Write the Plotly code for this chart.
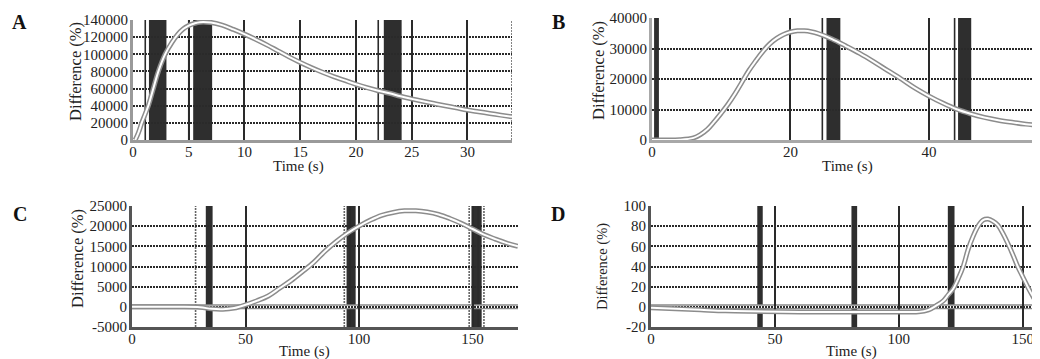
import plotly.graph_objects as go

# ---------------- data ----------------
A_t = [0.2, 0.5, 0.8, 1.1, 1.4, 1.8, 2.3, 2.9, 3.5, 4.0, 4.5, 5.0, 5.5, 6.0, 7, 8, 9, 10, 11, 12, 13, 14,
       15, 16, 17, 18, 19, 20, 21, 22, 23, 24, 25, 26, 27, 28, 29, 30, 31, 32, 33, 34]
A_y = [0, 9000, 20500, 30500, 41000, 59000, 81000, 100500, 114000, 123000, 129500, 133500, 136000, 137500,
       137000, 134000, 129000, 123500, 117500, 111000, 104000, 97000, 90500, 84500, 79000, 74000, 69500,
       65000, 61000, 57500, 54500, 51000, 48000, 45200, 42500, 40000, 37500, 35000, 33000, 31000, 29000, 27000]

B_t = [0, 2, 4, 6, 7, 8, 9, 10, 11, 12, 13, 14, 15, 16, 17, 18, 19, 20, 21, 22, 23, 24, 26, 28, 30, 32,
       34, 36, 38, 40, 42, 44, 46, 48, 50, 52, 54, 55.6]
B_y = [0, 0, 100, 700, 1800, 3500, 6000, 8800, 11800, 15200, 19000, 22800, 26000, 29000, 31500, 33300,
       34600, 35400, 35800, 35800, 35500, 34900, 33100, 30800, 28400, 25700, 22800, 20000, 17000, 14400,
       12100, 10100, 8600, 7400, 6500, 5800, 5200, 4800]

C_t = [0, 20, 30, 35, 40, 45, 50, 55, 60, 65, 70, 75, 80, 85, 90, 95, 100, 105, 110, 115, 120, 125, 130,
       135, 140, 145, 150, 155, 160, 165, 170]
C_y = [0, 0, -100, -500, -600, -300, 500, 1500, 2700, 4600, 6500, 8700, 11000, 13800, 16200, 18300, 20000,
       21500, 22700, 23400, 23800, 23800, 23500, 22900, 21900, 20700, 19300, 17900, 16800, 15800, 15000]

D_t = [0, 10, 20, 30, 40, 60, 80, 100, 108, 112, 115, 118, 120, 122, 124, 126, 128, 130, 132, 134, 136,
       138, 140, 142, 144, 146, 148, 150, 152, 154, 156, 157]
D_y = [-1, -2, -3, -4, -4.5, -5, -5, -5, -5, -3, 1, 6, 12, 18, 28, 40, 57, 70, 80, 86, 87, 85, 81, 73, 63,
       52, 40, 30, 20, 11, 3, 0]

# stimulus bands (start, end) and single marker lines
A_bands = [[1.43, 3.0], [5.4, 7.1], [22.5, 24.1]]
A_lines = [1.1, 5.0, 22.0]
A_dotted = [34]
B_bands = [[0.3, 1.0], [25.2, 27.2], [44.2, 46.1]]
B_lines = [24.6, 43.7]
B_dotted = []
C_bands = [[32.5, 35.5], [94.5, 98.5], [149.5, 154.0]]
C_lines = [96.0, 152.5]
C_dotted = [28, 93.5, 148.5, 155]
D_bands = [[42.9, 45.1], [80.9, 83.2], [119.8, 122.5]]
D_lines = []
D_dotted = []

# axis ranges and ticks
A_xticks = [0, 5, 10, 15, 20, 25, 30]
A_yticks = [0, 20000, 40000, 60000, 80000, 100000, 120000, 140000]
B_xticks = [0, 20, 40]
B_yticks = [0, 10000, 20000, 30000, 40000]
C_xticks = [0, 50, 100, 150]
C_yticks = [-5000, 0, 5000, 10000, 15000, 20000, 25000]
D_xticks = [0, 50, 100, 150]
D_yticks = [-20, 0, 20, 40, 60, 80, 100]

A_xrange, A_yrange = [0, 34], [0, 140000]
B_xrange, B_yrange = [0, 55.6], [0, 40000]
C_xrange, C_yrange = [0, 170], [-5000, 25000]
D_xrange, D_yrange = [0, 157], [-20, 100]

panel_labels = ["A", "B", "C", "D"]
x_title = "Time (s)"
y_title = "Difference (%)"

# ---------------- figure ----------------
OFF = 8                      # page body margin of the viewer
W, H = 1040 - OFF, 359 - OFF
FONT = "Liberation Serif"


def px_x(p):
    return (p - OFF) / W


def px_y(p):
    return 1 - (p - OFF) / H


panels = [
    dict(t=A_t, y=A_y, bands=A_bands, lines=A_lines, dotted=A_dotted, xt=A_xticks, yt=A_yticks,
         xr=A_xrange, yr=A_yrange, dom=(133, 512, 20, 140), axc="#9a9a9a", base=False,
         lab=(19, 22), xtit=(298, 167), ytit=(76, 72), ysz=16.5),
    dict(t=B_t, y=B_y, bands=B_bands, lines=B_lines, dotted=B_dotted, xt=B_xticks, yt=B_yticks,
         xr=B_xrange, yr=B_yrange, dom=(652, 1037, 18, 140), axc="#a8a8a8", base=False,
         lab=(558, 22), xtit=(847, 166), ytit=(598, 71), ysz=16.5),
    dict(t=C_t, y=C_y, bands=C_bands, lines=C_lines, dotted=C_dotted, xt=C_xticks, yt=C_yticks,
         xr=C_xrange, yr=C_yrange, dom=(132, 518, 206, 327), axc="#555555", base=True,
         lab=(20, 214), xtit=(304, 351), ytit=(77, 259), ysz=16.5),
    dict(t=D_t, y=D_y, bands=D_bands, lines=D_lines, dotted=D_dotted, xt=D_xticks, yt=D_yticks,
         xr=D_xrange, yr=D_yrange, dom=(651, 1040, 206, 327), axc="#555555", base=True,
         lab=(558, 214), xtit=(851, 351), ytit=(602, 267), ysz=14.5),
]

fig = go.Figure()
shapes = []
annotations = []
layout = {}

for i, p in enumerate(panels):
    n = "" if i == 0 else str(i + 1)
    xa, ya = "x" + n, "y" + n
    x0, x1, y0, y1 = p["dom"]
    layout["xaxis" + n] = dict(
        domain=[px_x(x0), min(1.0, px_x(x1))], range=p["xr"], anchor=ya, automargin=False,
        tickvals=p["xt"], ticktext=[str(v) for v in p["xt"]],
        showgrid=True, gridcolor="#2a2a2a", gridwidth=1.6,
        showline=True, linecolor=p["axc"], linewidth=3,
        ticks="", zeroline=False, ticklabelstandoff=-4,
        tickfont=dict(family=FONT, size=15, color="#222"),
    )
    layout["yaxis" + n] = dict(
        domain=[px_y(y1), px_y(y0)], range=p["yr"], anchor=xa, automargin=False,
        tickvals=p["yt"], ticktext=[str(v) for v in p["yt"]],
        showgrid=True, gridcolor="#2a2a2a", gridwidth=2, griddash="2px,1px",
        showline=True, linecolor=p["axc"], linewidth=3,
        ticks="", zeroline=False, ticklabelstandoff=-1,
        tickfont=dict(family=FONT, size=15, color="#222"),
    )

    # stimulus bands
    for b in p["bands"]:
        shapes.append(dict(type="rect", xref=xa, yref=ya + " domain", x0=b[0], x1=b[1], y0=0, y1=1,
                           fillcolor="#2e2e2e", line=dict(width=0), layer="below"))
    for v in p["lines"]:
        shapes.append(dict(type="line", xref=xa, yref=ya + " domain", x0=v, x1=v, y0=0, y1=1,
                           line=dict(color="#2a2a2a", width=1.6), layer="below"))
    for v in p["dotted"]:
        shapes.append(dict(type="line", xref=xa, yref=ya + " domain", x0=v, x1=v, y0=0, y1=1,
                           line=dict(color="#666", width=1.6, dash="2px,1px"), layer="below"))
    if p["base"]:
        shapes.append(dict(type="line", xref=xa + " domain", yref=ya, x0=0, x1=1, y0=0, y1=0,
                           line=dict(color="#8a8a8a", width=5), layer="below"))
        shapes.append(dict(type="line", xref=xa + " domain", yref=ya, x0=0, x1=1, y0=0, y1=0,
                           line=dict(color="#ffffff", width=2.2), layer="below"))

    # curve: grey outline with white core
    fig.add_trace(go.Scatter(x=p["t"], y=p["y"], mode="lines", xaxis=xa, yaxis=ya,
                             line=dict(color="#8c8c8c", width=5, shape="spline"),
                             hoverinfo="skip", showlegend=False))
    fig.add_trace(go.Scatter(x=p["t"], y=p["y"], mode="lines", xaxis=xa, yaxis=ya,
                             line=dict(color="#ffffff", width=2, shape="spline"),
                             hoverinfo="skip", showlegend=False))

    # labels
    annotations.append(dict(text="<b>%s</b>" % panel_labels[i], xref="paper", yref="paper",
                            x=px_x(p["lab"][0]), y=px_y(p["lab"][1]), showarrow=False,
                            xanchor="center", yanchor="middle",
                            font=dict(family=FONT, size=20, color="#111")))
    annotations.append(dict(text=x_title, xref="paper", yref="paper",
                            x=px_x(p["xtit"][0]), y=px_y(p["xtit"][1]), showarrow=False,
                            xanchor="center", yanchor="middle",
                            font=dict(family=FONT, size=15, color="#222")))
    annotations.append(dict(text=y_title, xref="paper", yref="paper", textangle=-90,
                            x=px_x(p["ytit"][0]), y=px_y(p["ytit"][1]), showarrow=False,
                            xanchor="center", yanchor="middle",
                            font=dict(family=FONT, size=p["ysz"], color="#222")))

fig.update_layout(
    width=W, height=H, margin=dict(l=0, r=0, t=0, b=0, autoexpand=False),
    paper_bgcolor="white", plot_bgcolor="white",
    shapes=shapes, annotations=annotations, **layout,
)

fig.write_html("out.html")
